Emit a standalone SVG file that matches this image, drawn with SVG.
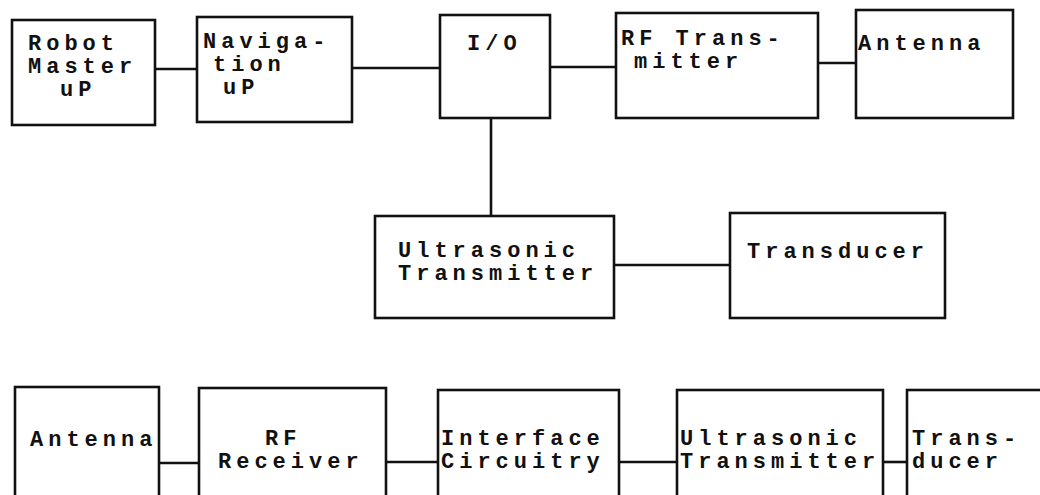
<svg xmlns="http://www.w3.org/2000/svg" width="1040" height="495" viewBox="0 0 1040 495">
<style>
.box{fill:none;stroke:#111;stroke-width:2.6}
.ln{fill:none;stroke:#111;stroke-width:2.6}
text{font-family:"Liberation Mono","Courier New",monospace;font-weight:bold;font-size:22px;letter-spacing:5px;fill:#111}
</style>
<rect width="1040" height="495" fill="#fff"/>
<g id="connectors">
<line class="ln" x1="155" y1="69" x2="197" y2="69"/>
<line class="ln" x1="352" y1="68" x2="440" y2="68"/>
<line class="ln" x1="550" y1="67" x2="616" y2="67"/>
<line class="ln" x1="818" y1="63" x2="856" y2="63"/>
<line class="ln" x1="491" y1="118" x2="491" y2="216"/>
<line class="ln" x1="614" y1="265" x2="730" y2="265"/>
<line class="ln" x1="159" y1="463" x2="199" y2="463"/>
<line class="ln" x1="386" y1="462" x2="438" y2="462"/>
<line class="ln" x1="619" y1="462" x2="677" y2="462"/>
<line class="ln" x1="883" y1="462" x2="907" y2="462"/>
</g>
<g id="robot-master">
<rect class="box" x="12" y="20" width="143" height="105"/>
<text x="28" y="50">Robot</text>
<text x="28" y="73">Master</text>
<text x="60" y="96">uP</text>
</g>
<g id="navigation">
<rect class="box" x="197" y="17" width="155" height="105"/>
<text x="203" y="48">Naviga-</text>
<text x="213" y="71">tion</text>
<text x="223" y="94">uP</text>
</g>
<g id="io">
<rect class="box" x="440" y="15" width="110" height="103"/>
<text x="467" y="50">I/O</text>
</g>
<g id="rf-transmitter">
<rect class="box" x="616" y="13" width="202" height="105"/>
<text x="621" y="45">RF Trans-</text>
<text x="634" y="68">mitter</text>
</g>
<g id="antenna-top">
<rect class="box" x="856" y="10" width="157" height="108"/>
<text x="858" y="50">Antenna</text>
</g>
<g id="ultrasonic-transmitter">
<rect class="box" x="375" y="216" width="239" height="102"/>
<text x="398" y="257">Ultrasonic</text>
<text x="398" y="280">Transmitter</text>
</g>
<g id="transducer">
<rect class="box" x="730" y="213" width="215" height="105"/>
<text x="747" y="258">Transducer</text>
</g>
<g id="antenna-bottom">
<rect class="box" x="15" y="387" width="144" height="120"/>
<text x="30" y="446">Antenna</text>
</g>
<g id="rf-receiver">
<rect class="box" x="199" y="388" width="187" height="120"/>
<text x="265" y="445">RF</text>
<text x="218" y="468">Receiver</text>
</g>
<g id="interface-circuitry">
<rect class="box" x="438" y="390" width="181" height="120"/>
<text x="441" y="445">Interface</text>
<text x="441" y="468">Circuitry</text>
</g>
<g id="ultrasonic-transmitter-2">
<rect class="box" x="677" y="390" width="206" height="120"/>
<text x="680" y="445">Ultrasonic</text>
<text x="680" y="468">Transmitter</text>
</g>
<g id="transducer-2">
<rect class="box" x="907" y="390" width="150" height="120"/>
<text x="912" y="445">Trans-</text>
<text x="912" y="468">ducer</text>
</g>
</svg>
